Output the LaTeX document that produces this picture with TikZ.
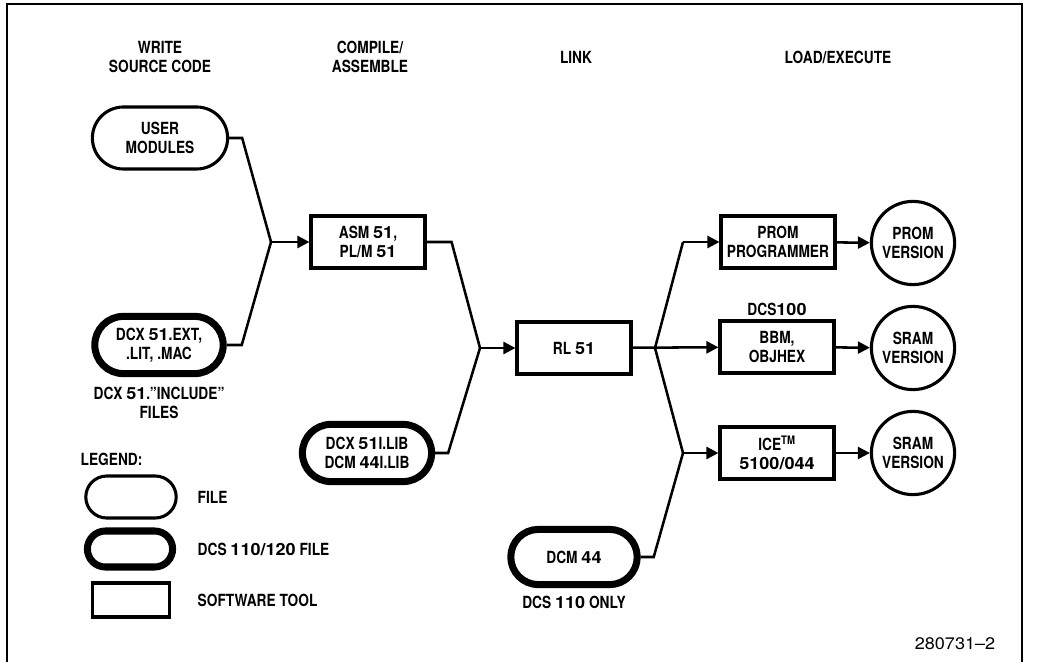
\documentclass[tikz,border=0pt]{standalone}
\usepackage{fontspec}
\setmainfont{TeX Gyre Heros}[FakeStretch=0.82]
\newfontfamily\digitfont{TeX Gyre Heros}[FakeStretch=1.08, Ligatures=TeX]
\newcommand\dg[1]{{\digitfont #1}}
\usetikzlibrary{positioning, arrows.meta, shapes.misc}

\begin{document}
\begin{tikzpicture}[
  x=0.025cm, y=-0.025cm,
  node distance=0.2cm and 0.4cm,
  lbl/.style={font=\fontsize{11.9pt}{13.8pt}\selectfont\bfseries,
              align=center, inner sep=1pt},
  head/.style={lbl, font=\fontsize{11.9pt}{13.5pt}\selectfont\bfseries},
  file/.style={lbl, rounded rectangle, draw, line width=2.2pt,
               minimum width=3.45cm, minimum height=1.55cm},
  dcsfile/.style={file, line width=5pt,
                  minimum width=3.3cm, minimum height=1.43cm},
  tool/.style={lbl, rectangle, draw, line width=2.2pt,
               minimum width=2.85cm, minimum height=1.3cm},
  ver/.style={lbl, circle, draw, line width=2.2pt,
              minimum size=2.08cm, inner sep=0pt},
  link/.style={line width=1.8pt},
  arr/.style={link, -{Triangle[length=0.3cm, width=0.3cm]}}
]
  \useasboundingbox (0,0) rectangle (1038,662);
  \draw[line width=1pt] (7,662) |- (1022,4) -- (1022,662);

  \node[head] (hWrite) at (160,57) {WRITE\\SOURCE CODE};
  \node[head] (hComp)  at (370,57) {COMPILE/\\ASSEMBLE};
  \node[head] (hLink)  at (576,57) {LINK};
  \node[head] (hLoad)  at (838,57) {LOAD/EXECUTE};

  \node[file] (user) at (160,138) {USER\\MODULES};
  \node[dcsfile, minimum width=3.28cm] (incl) at (159,345) {DCX \dg{51}.EXT,\\.LIT, .MAC};
  \node[lbl, below=of incl] (inclCap) {DCX \dg{51}."INCLUDE"\\FILES};
  \node[tool] (asm) at (368,242) {ASM \dg{51},\\PL/M \dg{51}};
  \node[dcsfile] (lib) at (367,453) {DCX \dg{51}I.LIB\\DCM \dg{44}I.LIB};
  \node[tool] (rl) at (574,348) {RL \dg{51}};
  \node[dcsfile, minimum width=3.23cm, minimum height=1.38cm] (dcm) at (574,557) {DCM \dg{44}};
  \node[lbl, below=0.15cm of dcm] (dcmCap) {DCS \dg{110} ONLY};
  \node[tool] (prom) at (778,242) {PROM\\PROGRAMMER};
  \node[tool] (bbm) at (777,347) {BBM,\\OBJHEX};
  \node[lbl, above=0.04cm of bbm] (bbmCap) {DCS\dg{100}};
  \node[tool] (ice) at (777,453) {ICE\textsuperscript{TM}\\\dg{5100/044}};
  \node[ver] (pv)  at (913,243) {PROM\\VERSION};
  \node[ver] (sv1) at (913,348) {SRAM\\VERSION};
  \node[ver] (sv2) at (913,453) {SRAM\\VERSION};

  \coordinate (jA) at (271,242);
  \coordinate (jB) at (480,348);
  \coordinate (jC) at (655,348);
  \coordinate (jD) at (683,453);
  \coordinate (jE) at (683,242);

  \draw[link] (user.east) -- ++(13,0) -- (jA);
  \draw[link] (incl.east) -- ++(15,0) -- (jA);
  \draw[arr]  (jA) -- (asm);
  \draw[link] (asm.east) -- ++(25,0) -- (jB);
  \draw[link] (lib.east) -- ++(13,0) -- (jB);
  \draw[arr]  (jB) -- (rl);
  \draw[arr]  (rl) -- (bbm);
  \draw[link] (jC) -- (jE);
  \draw[arr]  (jE) -- (prom);
  \draw[link] (jC) -- (jD);
  \draw[arr]  (jD) -- (ice);
  \draw[link] (dcm.east) -- ++(13,0) -- (jD);
  \draw[arr]  (prom) -- (pv);
  \draw[arr]  (bbm) -- (sv1);
  \draw[arr]  (ice) -- (sv2);

  \node[lbl, anchor=west] (legend) at (79,459) {LEGEND:};
  \node[file, minimum width=2.33cm, minimum height=1.05cm] (lFile) at (131,497) {};
  \node[dcsfile, minimum width=2.2cm, minimum height=0.9cm] (lDcs) at (130,549) {};
  \node[tool, minimum width=1.93cm, minimum height=0.85cm] (lTool) at (131,600) {};
  \node[lbl, anchor=west] (lFileTxt) at (196,497) {FILE};
  \node[lbl, anchor=west] (lDcsTxt)  at (196,549) {DCS \dg{110/120} FILE};
  \node[lbl, anchor=west] (lToolTxt) at (196,600) {SOFTWARE TOOL};

  \node[lbl, font=\fontsize{11.9pt}{13.8pt}\selectfont] (figNo) at (955,644) {\dg{280731--2}};
\end{tikzpicture}
\end{document}
